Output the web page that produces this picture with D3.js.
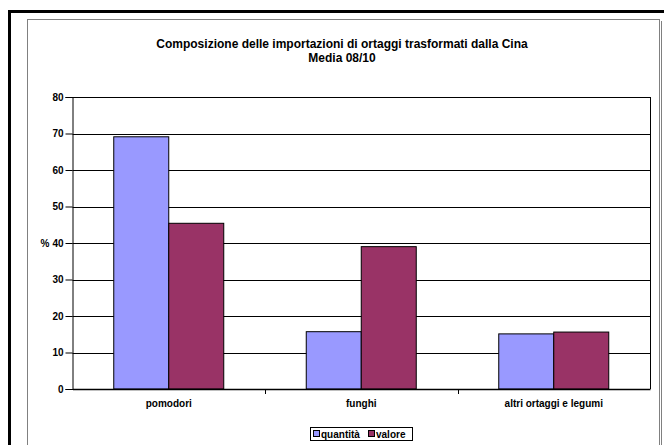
<!DOCTYPE html>
<html>
<head>
<meta charset="utf-8">
<script src="https://cdn.jsdelivr.net/npm/d3@7"></script>
<style>
  body { margin: 0; background: #fff; }
  text { font-family: "Liberation Sans", Arial, sans-serif; font-weight: bold; fill: #000; }
</style>
</head>
<body>
<script>
const width = 664;
const height = 445;

// data
const categories = ["pomodori", "funghi", "altri ortaggi e legumi"];
const seriesNames = ["quantità", "valore"];
const quantita = [69.1, 15.7, 15.1];
const valore = [45.4, 39.0, 15.6];
const yTicks = [0, 10, 20, 30, 40, 50, 60, 70, 80];
const colors = ["#9999ff", "#993366"];

const titleLines = ["Composizione delle importazioni di ortaggi trasformati dalla Cina", "Media 08/10"];

const svg = d3.select("body").append("svg")
  .attr("width", width)
  .attr("height", height);

// outer thick frame and inner chart frame
svg.append("rect")
  .attr("x", 9.5).attr("y", 11.5)
  .attr("width", 700).attr("height", 500)
  .attr("fill", "none").attr("stroke", "#000").attr("stroke-width", 3);

svg.append("rect")
  .attr("x", 27.5).attr("y", 19.5)
  .attr("width", 632).attr("height", 500)
  .attr("fill", "none").attr("stroke", "#808080").attr("stroke-width", 1);
svg.append("line")
  .attr("x1", 661.5).attr("x2", 661.5).attr("y1", 21).attr("y2", 445)
  .attr("stroke", "#808080");

const margin = { left: 72.5, right: 650, top: 97, bottom: 389 };

const x = d3.scaleBand()
  .domain(categories)
  .range([margin.left, margin.right])
  .paddingInner(0)
  .paddingOuter(0);

const barW = x.bandwidth() / 3.5;

const y = d3.scaleLinear()
  .domain([0, 80])
  .range([margin.bottom, margin.top]);

// gridlines
svg.append("g")
  .selectAll("line")
  .data(yTicks.filter(d => d > 0))
  .join("line")
  .attr("x1", margin.left).attr("x2", margin.right)
  .attr("y1", d => Math.round(y(d)) + 0.5).attr("y2", d => Math.round(y(d)) + 0.5)
  .attr("stroke", "#000").attr("stroke-width", 1);

// right border of plot area
svg.append("line")
  .attr("x1", margin.right + 0.5).attr("x2", margin.right + 0.5)
  .attr("y1", margin.top).attr("y2", margin.bottom)
  .attr("stroke", "#000");

// bars
const table = categories.map((c, i) => ({ cat: c, values: [quantita[i], valore[i]] }));

const groups = svg.append("g")
  .selectAll("g")
  .data(table)
  .join("g")
  .attr("transform", d => `translate(${x(d.cat) + x.bandwidth() / 2 - barW},0)`);

groups.selectAll("rect")
  .data(d => d.values)
  .join("rect")
  .attr("x", (d, i) => i * barW)
  .attr("y", d => y(d))
  .attr("width", barW)
  .attr("height", d => y(0) - y(d))
  .attr("fill", (d, i) => colors[i])
  .attr("stroke", "#000")
  .attr("stroke-width", 1);

// y axis
const yAxis = svg.append("g")
  .attr("transform", `translate(${margin.left},0)`)
  .call(d3.axisLeft(y).tickValues(yTicks).tickSize(7).tickPadding(2));
yAxis.select(".domain").attr("stroke", "#000");
yAxis.selectAll("text").style("font-size", "10px");
yAxis.selectAll(".tick line").attr("stroke", "#000");

svg.append("text")
  .attr("x", 49.5).attr("y", y(40) + 3.5)
  .attr("text-anchor", "end")
  .style("font-size", "10px")
  .text("%");

// x axis
const xAxis = svg.append("g")
  .attr("transform", `translate(0,${margin.bottom})`)
  .call(d3.axisBottom(x).tickSize(0).tickPadding(11));
xAxis.select(".domain").attr("stroke", "#000").attr("stroke-width", 1.5);
xAxis.selectAll("text").style("font-size", "10px");

svg.append("g")
  .selectAll("line")
  .data(categories.slice(0, -1))
  .join("line")
  .attr("x1", d => Math.round(x(d) + x.bandwidth()) + 0.5)
  .attr("x2", d => Math.round(x(d) + x.bandwidth()) + 0.5)
  .attr("y1", margin.bottom).attr("y2", margin.bottom + 5)
  .attr("stroke", "#000");

// title
svg.append("g")
  .selectAll("text")
  .data(titleLines)
  .join("text")
  .attr("x", 342)
  .attr("y", (d, i) => 48 + i * 14)
  .attr("text-anchor", "middle")
  .style("font-size", "12px")
  .text(d => d);

// legend
const legend = svg.append("g");
legend.append("rect")
  .attr("x", 310.5).attr("y", 427.5)
  .attr("width", 102).attr("height", 13)
  .attr("fill", "#fff").attr("stroke", "#000");

const legendX = [313, 368];
seriesNames.forEach((name, i) => {
  legend.append("rect")
    .attr("x", legendX[i] + 0.5).attr("y", 430.5)
    .attr("width", 6).attr("height", 6)
    .attr("fill", colors[i]).attr("stroke", "#000");
  legend.append("text")
    .attr("x", legendX[i] + 8).attr("y", 437.5)
    .style("font-size", "10px")
    .text(name);
});
</script>
</body>
</html>
